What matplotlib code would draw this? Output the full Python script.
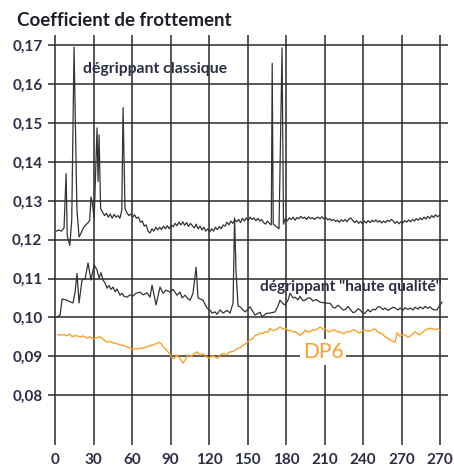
import matplotlib
matplotlib.use("Agg")
import matplotlib.pyplot as plt

plt.rcParams['font.family'] = ['Lato', 'DejaVu Sans']

# ---- data ----
title = "Coefficient de frottement"
x_ticks = [0, 30, 60, 90, 120, 150, 180, 210, 240, 270, 300]
x_tick_labels = ['0', '30', '60', '90', '120', '150', '180', '210', '240', '270', '270']
y_ticks = [0.08, 0.09, 0.10, 0.11, 0.12, 0.13, 0.14, 0.15, 0.16, 0.17]
y_tick_labels = ['0,08', '0,09', '0,10', '0,11', '0,12', '0,13', '0,14', '0,15', '0,16', '0,17']

classique_x = [1, 3, 5, 7, 8.6, 9.5, 11.5, 13, 14.8, 17, 18.7, 20, 22, 24, 26, 27, 28, 29, 30.5,
               32.7, 33.5, 34.3, 35.5, 37, 38.5, 40, 41.5, 43, 44.5, 46, 47.5, 49, 50.5, 52, 53,
               54.5, 56, 57.5, 59, 60.5, 62, 63.5, 65, 66.5, 68, 69.5, 71, 72.5, 74, 75.5, 77,
               78.5, 80, 81.5, 83, 84.5, 86, 87.5, 89, 90.5, 92, 93.5, 95, 96.5, 98, 99.5, 101,
               102.5, 104, 105.5, 107, 108.5, 110, 111.5, 113, 114.5, 116, 117.5, 119, 120.5,
               122, 123.5, 125, 126.5, 128, 129.5, 131, 132.5, 134, 135.5, 137, 138.5, 140,
               141.5, 143, 144.5, 146, 147.5, 149, 150.5, 152, 153.5, 155, 156.5, 158, 159.5,
               161, 162.5, 164, 165.5, 167, 168.5, 169.2, 170, 172, 174.5, 176.9, 178, 179.5,
               181, 182.5, 184, 185.5, 187, 188.5, 190, 191.5, 193, 194.5, 196, 197.5, 199,
               200.5, 202, 203.5, 205, 206.5, 208, 209.5, 211, 212.5, 214, 215.5, 217, 218.5,
               220, 221.5, 223, 224.5, 226, 227.5, 229, 230.5, 232, 233.5, 235, 236.5, 238,
               239.5, 241, 242.5, 244, 245.5, 247, 248.5, 250, 251.5, 253, 254.5, 256, 257.5,
               259, 260.5, 262, 263.5, 265, 266.5, 268, 269.5, 271, 272.5, 274, 275.5, 277,
               278.5, 280, 281.5, 283, 284.5, 286, 287.5, 289, 290.5, 292, 293.5, 295, 296.5,
               298, 299.5]
classique_y = [0.1222, 0.1225, 0.1222, 0.1230, 0.1370, 0.1210, 0.1185, 0.1250, 0.1696, 0.1280,
               0.1207, 0.1215, 0.1230, 0.1238, 0.1245, 0.1250, 0.1310, 0.1295, 0.1255,
               0.1488, 0.1350, 0.1470, 0.1280, 0.1271, 0.1262, 0.1268, 0.1258, 0.1266, 0.1255,
               0.1265, 0.1258, 0.1262, 0.1255, 0.1275, 0.1540,
               0.1280, 0.1269, 0.1262, 0.1266, 0.1258, 0.1264, 0.1255, 0.1258, 0.1245, 0.1248,
               0.1235, 0.1238, 0.1222, 0.1217, 0.1228, 0.1222,
               0.1232, 0.1225, 0.1232, 0.1226, 0.1235, 0.1228, 0.1236, 0.1228, 0.1238, 0.1233,
               0.1242, 0.1236, 0.1245, 0.1238, 0.1246, 0.1237,
               0.1244, 0.1234, 0.1242, 0.1236, 0.1230, 0.1240, 0.1228, 0.1235, 0.1225, 0.1232,
               0.1222, 0.1228, 0.1220,
               0.1228, 0.1222, 0.1232, 0.1226, 0.1234, 0.1228, 0.1238, 0.1235, 0.1245, 0.1238,
               0.1248, 0.1242, 0.1252,
               0.1246, 0.1252, 0.1244, 0.1255, 0.1248, 0.1256, 0.1249, 0.1258, 0.1252, 0.1256,
               0.1249, 0.1255, 0.1248,
               0.1252, 0.1244, 0.1240, 0.1248, 0.1242, 0.1238, 0.1654, 0.1240, 0.1235, 0.1228,
               0.1694, 0.1240, 0.1255,
               0.1248, 0.1256, 0.1252, 0.1258, 0.1250, 0.1257, 0.1254, 0.1260, 0.1255, 0.1258,
               0.1252, 0.1259, 0.1254,
               0.1257, 0.1252, 0.1256, 0.1258, 0.1254, 0.1259, 0.1253, 0.1257, 0.1251, 0.1254,
               0.1249, 0.1252, 0.1247,
               0.1250, 0.1245, 0.1251, 0.1247, 0.1252, 0.1246, 0.1253, 0.1256, 0.1249, 0.1244,
               0.1249, 0.1242, 0.1247,
               0.1241, 0.1248, 0.1243, 0.1249, 0.1244, 0.1250, 0.1246, 0.1251, 0.1245, 0.1249,
               0.1243, 0.1248, 0.1244,
               0.1250, 0.1247, 0.1252, 0.1248, 0.1242, 0.1247, 0.1241, 0.1246, 0.1243, 0.1249,
               0.1245, 0.1251, 0.1246,
               0.1252, 0.1248, 0.1254, 0.1250, 0.1256, 0.1251, 0.1258, 0.1253, 0.1260, 0.1255,
               0.1262, 0.1257, 0.1264,
               0.1259, 0.1263]

haute_x = [1.6, 3.9, 5.5, 8.6, 11.7, 14, 15.6, 17.1, 18.7, 21, 23.4, 25.7, 28, 30.4, 32.7, 34.3,
           35.8, 37.4, 39, 40.5, 42, 43.6, 45.2, 46.8, 48.3, 50.6, 52.2, 53.8, 56.1, 58.4, 60.8,
           63, 66.2, 68.6, 71.7, 74, 75.6, 78.7, 81.8, 84.2, 86.5, 89.6, 92, 95, 97.4, 99,
           101.3, 103.6, 105.2, 107.5, 109.9, 111.4, 115.3, 118.4, 120.8, 122.3, 124.7, 126.2,
           128.6, 131, 134, 136.4, 138.7, 139.9, 141, 142.6, 144.2, 148.1, 152, 155.8, 159.7,
           161.3, 164.4, 167.5, 171.4, 173.8, 175.3, 177.7, 179.3, 181.6, 183.1, 185.5, 187,
           189.3, 190.9, 193.2, 194.8, 197.1, 198.7, 201, 203.4, 206.5, 210.4, 214.3, 216.6,
           218.2, 220.5, 222, 224.4, 226, 228.3, 229.9, 232.2, 233.8, 236.2, 237.7, 240, 241.5,
           243.9, 245.5, 247.8, 249.4, 251.7, 253.2, 255.6, 257.1, 259.5, 261, 263.4, 265,
           267.3, 268.8, 271.1, 272.7, 275, 276.6, 279, 280.5, 282.9, 284.4, 286.7, 288.3,
           290.6, 292.2, 294.5, 297.6, 300, 301.5]
haute_y = [0.1001, 0.1006, 0.1047, 0.1045, 0.1040, 0.1037, 0.1065, 0.1113, 0.1037, 0.1096,
           0.1099, 0.1140, 0.1096, 0.1135, 0.1122, 0.1101, 0.1115, 0.1096, 0.1088, 0.1075,
           0.1082, 0.1072, 0.1078, 0.1066, 0.1073, 0.1057, 0.1062, 0.1054, 0.1052, 0.1058,
           0.1055, 0.1062, 0.1065, 0.1058, 0.1063, 0.1052, 0.1083, 0.1032, 0.1078, 0.1062,
           0.1070, 0.1065, 0.1072, 0.1057, 0.1065, 0.1050, 0.1057, 0.1048, 0.1044, 0.1062,
           0.1129, 0.1050, 0.1044, 0.1024, 0.1018, 0.1011, 0.1014, 0.1008, 0.1019, 0.1011,
           0.1018, 0.1011, 0.1037, 0.1256, 0.1120, 0.1029, 0.1027, 0.1014, 0.1027, 0.1006,
           0.1013, 0.1001, 0.1010, 0.1011, 0.1014, 0.1030, 0.1044, 0.1035, 0.1032, 0.1045,
           0.1062, 0.1050, 0.1052, 0.1045, 0.1054, 0.1043, 0.1044, 0.1050, 0.1050, 0.1042,
           0.1046, 0.1039, 0.1037, 0.1036, 0.1026, 0.1024, 0.1031, 0.1027, 0.1019, 0.1020,
           0.1028, 0.1021, 0.1012, 0.1014, 0.1022, 0.1019, 0.1010, 0.1011, 0.1020, 0.1014,
           0.1021, 0.1019, 0.1027, 0.1027, 0.1020, 0.1024, 0.1018, 0.1021, 0.1026, 0.1024,
           0.1019, 0.1024, 0.1018, 0.1025, 0.1020, 0.1024, 0.1019, 0.1026, 0.1021, 0.1027,
           0.1022, 0.1028, 0.1023, 0.1027, 0.1020, 0.1019, 0.1032, 0.1039]

dp6_x = [2.3, 6.2, 9.4, 11.7, 13.2, 15.6, 19.5, 21.8, 24.9, 27.3, 29.6, 32.7, 35.1, 38.2, 40.5,
         42.9, 45.2, 48.3, 50.6, 53.8, 56.1, 58.4, 60.8, 63.9, 66.2, 69.3, 71.7, 74, 76.4, 78.7,
         81, 82.6, 84.2, 86.5, 88, 89.6, 91.2, 92.7, 95, 97.4, 99.7, 101.3, 103.6, 106, 108.3,
         110.6, 113, 115.3, 117.7, 120, 122.3, 124.7, 127, 128.6, 131, 133.2, 136.4, 138.7,
         141.8, 144.2, 146.5, 148.8, 152, 154.3, 155.8, 158.2, 159.7, 162.1, 163.6, 166,
         167.5, 169.1, 171.4, 173, 175.3, 177.7, 179.3, 181.6, 183.1, 185.5, 187, 189.3,
         190.9, 193.2, 194.8, 197.1, 198.7, 201, 202.6, 204.9, 206.5, 208.9, 210.4, 212.7,
         214.3, 216.6, 218.2, 220.5, 222, 224.4, 226, 228.3, 229.9, 232.2, 233.8, 236.2,
         237.7, 240, 241.5, 243.9, 245.5, 247.8, 249.4, 251.7, 253.2, 255.6, 257.1, 259.5,
         261, 263.4, 265, 266.5, 268.8, 271.1, 272.7, 275, 276.6, 279, 280.5, 282.9, 284.4,
         286.7, 288.3, 290.6, 292.2, 294.5, 296, 298.4, 300]
dp6_y = [0.0955, 0.0955, 0.0953, 0.0957, 0.0950, 0.0953, 0.0950, 0.0952, 0.0947, 0.0950,
         0.0944, 0.0948, 0.0950, 0.0942, 0.0936, 0.0938, 0.0934, 0.0932, 0.0929, 0.0927,
         0.0924, 0.0921, 0.0918, 0.0919, 0.0920, 0.0922, 0.0924, 0.0927, 0.0929, 0.0932,
         0.0936, 0.0932, 0.0924, 0.0917, 0.0911, 0.0905, 0.0896, 0.0894, 0.0903, 0.0894,
         0.0882, 0.0890, 0.0904, 0.0899, 0.0906, 0.0911, 0.0903, 0.0906, 0.0899, 0.0895,
         0.0901, 0.0898, 0.0895, 0.0903, 0.0907, 0.0903, 0.0911, 0.0912, 0.0919, 0.0922,
         0.0928, 0.0933, 0.0942, 0.0946, 0.0953, 0.0956, 0.0960, 0.0958, 0.0963, 0.0962,
         0.0972, 0.0966, 0.0967, 0.0970, 0.0975, 0.0970, 0.0972, 0.0966, 0.0967, 0.0962,
         0.0963, 0.0958, 0.0953, 0.0960, 0.0967, 0.0962, 0.0963, 0.0968, 0.0967, 0.0971,
         0.0975, 0.0969, 0.0970, 0.0964, 0.0963, 0.0968, 0.0967, 0.0962, 0.0963, 0.0958,
         0.0960, 0.0964, 0.0963, 0.0968, 0.0967, 0.0960, 0.0960, 0.0966, 0.0967, 0.0964,
         0.0965, 0.0969, 0.0970, 0.0962, 0.0960, 0.0955, 0.0950, 0.0946, 0.0942, 0.0938,
         0.0936, 0.0960, 0.0951, 0.0955, 0.0955, 0.0949, 0.0951, 0.0958, 0.0963, 0.0957,
         0.0955, 0.0962, 0.0967, 0.0970, 0.0972, 0.0970, 0.0969, 0.0970, 0.0967]

label_classique = "dégrippant classique"
label_haute = "dégrippant \"haute qualité\""
label_dp6 = "DP6"

# ---- figure ----
W, H = 454, 466
fig = plt.figure(figsize=(W / 100, H / 100), dpi=100)
ax = fig.add_axes([48 / W, (H - 445) / H, 400 / W, 410 / H])
xmin, xmax = -5.5, 306.2
ymin, ymax = 0.06713, 0.1727
ax.set_xlim(xmin, xmax)
ax.set_ylim(ymin, ymax)
for s in ax.spines.values():
    s.set_visible(False)

grid_c = '#2a2a2a'
ax.hlines(y_ticks, xmin, xmax, color=grid_c, lw=1.1, zorder=1)
ax.vlines(x_ticks, ymin, ymax, color=grid_c, lw=1.1, zorder=1)

ax.plot(classique_x, classique_y, color='#333333', lw=0.9, zorder=3)
ax.plot(haute_x, haute_y, color='#333333', lw=0.9, zorder=3)
ax.plot(dp6_x, dp6_y, color='#f7a02c', lw=1.0, zorder=3)

lab_c = '#2b2d45'
ax.set_xticks(x_ticks)
ax.set_xticklabels(x_tick_labels)
ax.set_yticks(y_ticks)
ax.set_yticklabels(y_tick_labels)
ax.tick_params(length=0, labelsize=11, labelcolor=lab_c)
ax.tick_params(axis='y', pad=4)
ax.tick_params(axis='x', pad=6)
for t in ax.get_xticklabels() + ax.get_yticklabels():
    t.set_fontweight('bold')

ax.text(21.5, 0.1639, label_classique, fontsize=11.3, fontweight='bold', color=lab_c,
        va='center', ha='left', zorder=4)
ax.text(301, 0.1077, label_haute, fontsize=11.2, fontweight='bold', color=lab_c,
        va='center', ha='right', zorder=4)
ax.text(209, 0.0911, label_dp6, fontsize=15, color='#f7a02c', va='center', ha='center',
        zorder=5, bbox=dict(facecolor='white', edgecolor='none', pad=2))

fig.text(17 / W, 1 - 20 / H, title, fontsize=13.5, fontweight='bold', color='#1e1e2a',
         ha='left', va='center')

fig.savefig('out.png', dpi=100)
